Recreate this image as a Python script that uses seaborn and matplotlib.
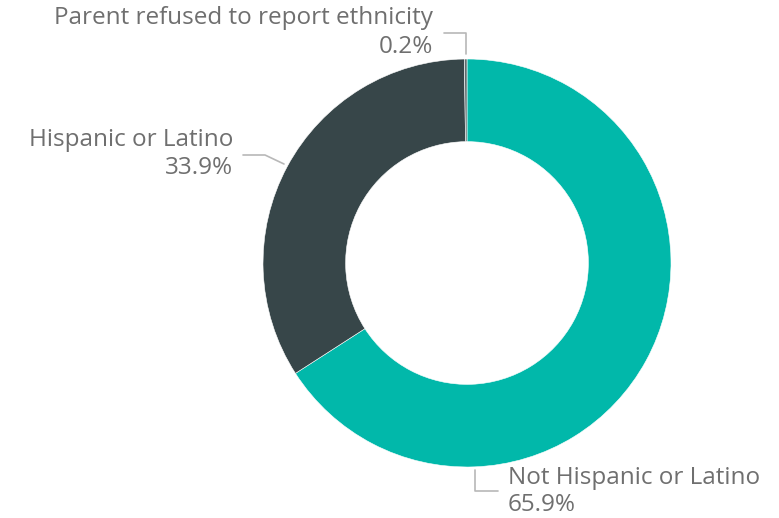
import matplotlib
matplotlib.use("Agg")
import matplotlib.pyplot as plt
import seaborn as sns

# data
labels = ["Not Hispanic or Latino", "Hispanic or Latino", "Parent refused to report ethnicity"]
shares = [65.9, 33.9, 0.2]
colors = ["#01B8AA", "#374649", "#5F6B6D"]

sns.set_theme(style="white")
plt.rcParams["font.family"] = ["Open Sans", "DejaVu Sans"]

W, H = 779, 518
fig = plt.figure(figsize=(W / 100, H / 100), dpi=100)
ax = fig.add_axes([0, 0, 1, 1])

cx, cy, r = 467, 263, 204
# pie on inverted y-axis runs mirrored, so draw counterclockwise from -90
ax.pie(shares, colors=colors, startangle=-90, counterclock=True,
       center=(cx, cy), radius=r, frame=True,
       wedgeprops=dict(width=r * 0.405, edgecolor="white", linewidth=0.4))
ax.set_xlim(0, W)
ax.set_ylim(H, 0)
ax.set_aspect("equal")
ax.axis("off")

txt = "#6F6F6F"
line = "#B8B8B8"
fs = 17.5

def label(x, y1, y2, name, pct, ha):
    ax.text(x, y1, name, ha=ha, va="center", fontsize=fs, color=txt)
    ax.text(x, y2, pct, ha=ha, va="center", fontsize=fs, color=txt)

label(433, 18, 47, labels[2], f"{shares[2]}%", "right")
ax.plot([444, 466, 466], [33, 33, 54], color=line, lw=1.2)

label(233, 140, 168, labels[1], f"{shares[1]}%", "right")
ax.plot([243, 265, 284], [155, 155, 164], color=line, lw=1.2)

label(508, 478, 505, labels[0], f"{shares[0]}%", "left")
ax.plot([475, 475, 498], [470, 491, 491], color=line, lw=1.2)

fig.savefig("out.png", dpi=100, facecolor="white")
